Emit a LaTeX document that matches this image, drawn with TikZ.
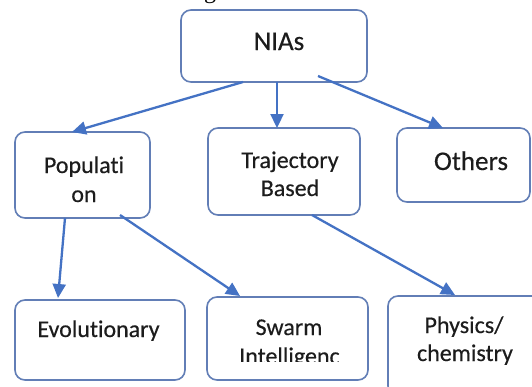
\documentclass[tikz,border=0pt]{standalone}
\usepackage{fontspec}
\setmainfont[Ligatures=NoCommon, FakeBold=0.35]{Carlito}
\newfontfamily\capfont{Liberation Serif}
\usetikzlibrary{arrows.meta,calc}
\definecolor{boxblue}{RGB}{98,126,182}
\definecolor{arrowblue}{RGB}{68,114,196}
\definecolor{ink}{RGB}{28,28,28}
\tikzset{
  box/.style={draw=boxblue, line width=1.6pt, rounded corners=10pt, fill=white,
              inner sep=0pt, outer sep=0pt},
  big/.style={text=ink, inner sep=0pt, anchor=base, font=\fontsize{27}{32}\selectfont},
  txt/.style={text=ink, inner sep=0pt, anchor=base, font=\fontsize{24}{29}\selectfont},
  arr/.style={draw=arrowblue, line width=2.3pt,
              -{Triangle[length=14pt,width=13pt]}},
}
\begin{document}
\begin{tikzpicture}[x=1pt,y=-1pt]
\useasboundingbox (0,0) rectangle (532,386);
\clip (0,0) rectangle (532,386);
\fill[white] (0,0) rectangle (532,386);

% descender of the caption line above the chart
\node[text=black, inner sep=0pt, anchor=base, font=\capfont\fontsize{24}{28}\selectfont]
  (capg) at (210,-1.5) {g};

% boxes
\node[box, minimum width=186pt, minimum height=72pt] (nias) at (274,46) {};
\node[box, minimum width=135pt, minimum height=86pt] (pop)  at (82.5,175) {};
\node[box, minimum width=152pt, minimum height=87pt] (traj) at (284,171.5) {};
\node[box, minimum width=133pt, minimum height=74pt] (oth)  at (463.5,165) {};
\node[box, minimum width=170pt, minimum height=80pt] (evo)  at (100,340) {};
\node[box, minimum width=161pt, minimum height=83pt] (swarm) at (287.5,338.5) {};
\node[box, minimum width=160pt, minimum height=100pt] (phys) at (468,346) {};

% labels
\node[big] (niasT) at (279,50) {NIAs};
\node[txt] (popA) at (84,173) {Populati};
\node[txt] (popB) at (84,202) {on};
\node[txt] (trajA) at (290,168) {Trajectory};
\node[txt] (trajB) at (290,196) {Based};
\node[big] (othT) at (471,170) {Others};
\node[txt] (evoT) at (98.5,337) {Evolutionary};
\node[txt] (swA) at (289,335) {Swarm};
\begin{scope}
  \clip (210,300) rectangle (365,361.5);
  \node[txt] (swB) at (289.5,364) {Intelligenc};
\end{scope}
\node[txt] (phA) at (464,333) {Physics/};
\node[txt] (phB) at (465,361) {chemistry};

% connectors
\draw[arr] ([xshift=62pt]nias.south west) -- ([xshift=57pt]pop.north west);
\draw[arr] ([xshift=96pt]nias.south west) -- ([xshift=69pt]traj.north west);
\draw[arr] ([xshift=137pt,yshift=6pt]nias.south west) -- ([xshift=46pt]oth.north west);
\draw[arr] ([xshift=50pt]pop.south west) -- ([xshift=43pt,yshift=2pt]evo.north west);
\draw[arr] ([xshift=105pt,yshift=3pt]pop.south west) -- ([xshift=33pt,yshift=1pt]swarm.north west);
\draw[arr] ([xshift=104pt]traj.south west) -- ([xshift=67pt,yshift=1pt]phys.north west);
\end{tikzpicture}
\end{document}
